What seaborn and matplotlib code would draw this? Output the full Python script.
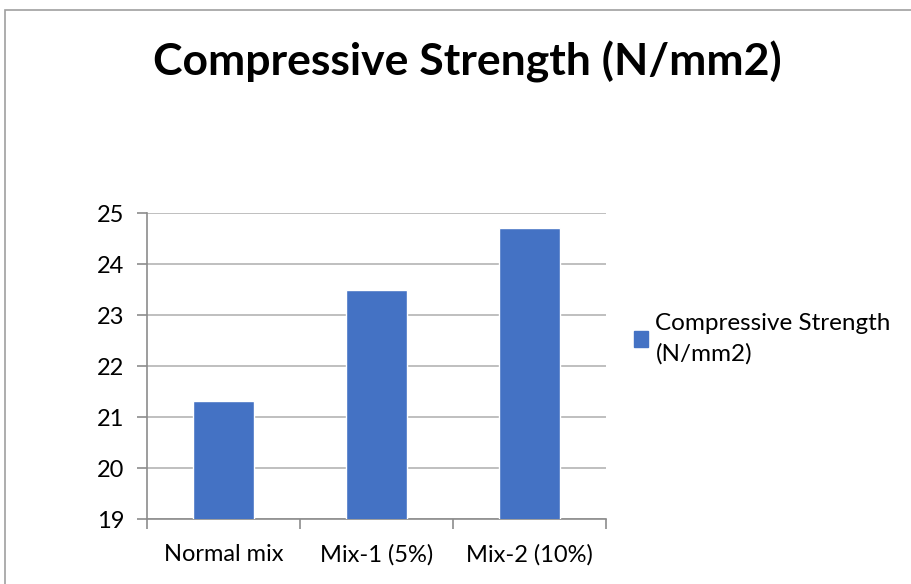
import matplotlib
matplotlib.use('Agg')
import pandas as pd
import matplotlib.pyplot as plt
import seaborn as sns
from matplotlib.patches import Rectangle

# Data
categorias = ['Normal mix', 'Mix-1 (5%)', 'Mix-2 (10%)']
valores = [21.32, 23.49, 24.71]
serie = 'Compressive Strength (N/mm2)'
yticks = [19, 20, 21, 22, 23, 24, 25]

df = pd.DataFrame({'mix': categorias, 'strength': valores})

sns.set_style('white')
plt.rcParams['font.family'] = ['Lato', 'DejaVu Sans']
plt.rcParams['text.color'] = 'black'
plt.rcParams['xtick.color'] = 'black'
plt.rcParams['ytick.color'] = 'black'

fig = plt.figure(figsize=(9.12, 5.84), dpi=100)
ax = fig.add_axes([0.1609, 0.1108, 0.5036, 0.524])

sns.barplot(data=df, x='mix', y='strength', color='#4472C4', width=0.4,
            saturation=1, ax=ax, zorder=3)

ax.set_ylim(19, 25)
ax.set_xlim(-0.5, 2.5)
ax.set_yticks(yticks)
ax.set_xlabel('')
ax.set_ylabel('')

grid_c = '#B4B4B4'
axis_c = '#8C8C8C'
ax.grid(axis='y', color=grid_c, linewidth=1.2, zorder=0)
ax.grid(axis='x', visible=False)
for s in ['top', 'right']:
    ax.spines[s].set_visible(False)
ax.spines['left'].set_color(axis_c)
ax.spines['bottom'].set_color(axis_c)
ax.spines['left'].set_linewidth(1.2)
ax.spines['bottom'].set_linewidth(1.2)

ax.tick_params(axis='y', which='major', length=7, width=1.2, color=axis_c,
               labelcolor='black', labelsize=17, pad=9, left=True)
ax.tick_params(axis='x', which='major', length=0, labelsize=17, pad=18,
               labelcolor='black')
ax.set_xticks([-0.5, 0.5, 1.5, 2.5], minor=True)
ax.tick_params(axis='x', which='minor', length=7, width=1.2, color=axis_c,
               bottom=True, direction='out')

# legend
handle = Rectangle((0, 0), 1, 1, color='#4472C4')
fig.legend([handle], ['Compressive Strength\n(N/mm2)'], loc='upper left',
           bbox_to_anchor=(0.684, 0.48), frameon=False, fontsize=17.5,
           handlelength=0.6, handleheight=0.6, handletextpad=0.3,
           borderaxespad=0)
for t in fig.legends[0].get_texts():
    t.set_linespacing(1.5)

fig.suptitle('Compressive Strength (N/mm2)', x=0.512, y=0.93,
             fontsize=32, fontweight='bold', color='black')

# outer chart border
fig.patches.append(Rectangle((5 / 912, -0.02), 1.02, 1 - 10 / 584 + 0.02,
                             transform=fig.transFigure, fill=False,
                             edgecolor='#A0A0A0', linewidth=1.2))

plt.savefig('out.png', dpi=100)
